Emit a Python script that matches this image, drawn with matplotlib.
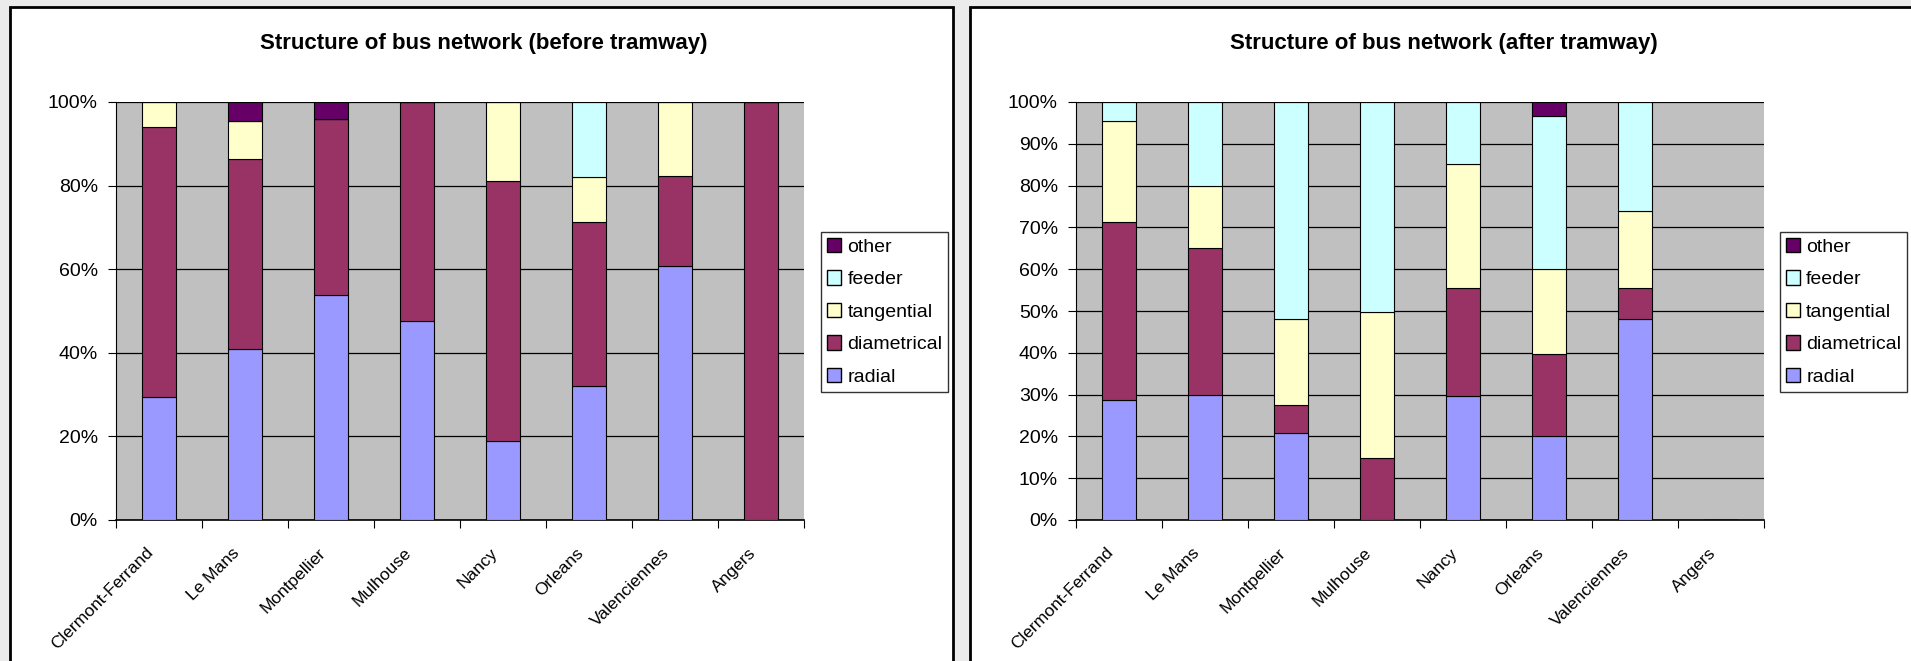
import matplotlib
matplotlib.use("Agg")
import matplotlib.pyplot as plt
import numpy as np
from matplotlib.patches import Patch, Rectangle
from matplotlib.transforms import ScaledTranslation

plt.rcParams["font.family"] = ["Liberation Sans", "DejaVu Sans"]

cities = ["Clermont-Ferrand", "Le Mans", "Montpellier", "Mulhouse",
          "Nancy", "Orleans", "Valenciennes", "Angers"]
series = ["radial", "diametrical", "tangential", "feeder", "other"]
colors = ["#9999FF", "#993366", "#FFFFCC", "#CCFFFF", "#660066"]

# shares in %, before tramway
before_radial = [29.4, 40.9, 53.9, 47.7, 18.8, 32.0, 60.8, 0.0]
before_diametrical = [64.6, 45.5, 42.1, 52.3, 62.4, 39.3, 21.5, 100.0]
before_tangential = [6.0, 9.0, 0.0, 0.0, 18.8, 10.7, 17.7, 0.0]
before_feeder = [0.0, 0.0, 0.0, 0.0, 0.0, 18.0, 0.0, 0.0]
before_other = [0.0, 4.6, 4.0, 0.0, 0.0, 0.0, 0.0, 0.0]

# shares in %, after tramway (no data for Angers)
after_radial = [28.6, 29.9, 20.7, 0.0, 29.6, 20.1, 48.0, 0.0]
after_diametrical = [42.6, 35.1, 6.9, 14.8, 25.9, 19.7, 7.4, 0.0]
after_tangential = [24.2, 14.8, 20.6, 35.0, 29.7, 20.2, 18.5, 0.0]
after_feeder = [4.6, 20.2, 51.8, 50.2, 14.8, 36.7, 26.1, 0.0]
after_other = [0.0, 0.0, 0.0, 0.0, 0.0, 3.3, 0.0, 0.0]

before = [before_radial, before_diametrical, before_tangential, before_feeder, before_other]
after = [after_radial, after_diametrical, after_tangential, after_feeder, after_other]

W, H = 1911, 661
fig = plt.figure(figsize=(W / 100, H / 100), dpi=100)
fig.patch.set_facecolor("#ebebeb")

# white chart panels with black frame
for x0, x1 in [(10, 953), (970, 1925)]:
    fig.patches.append(Rectangle((x0 / W, -0.05), (x1 - x0) / W, 1.05 - 7 / H,
                                 transform=fig.transFigure, facecolor="white",
                                 edgecolor="black", linewidth=2, zorder=-5))


def draw_panel(left, data, title, ystep, legend_x):
    ax = fig.add_axes([left / W, 1 - 520 / H, 688 / W, 418 / H])
    ax.set_facecolor("#C0C0C0")
    x = np.arange(len(cities))
    bottom = np.zeros(len(cities))
    for vals, name, c in zip(data, series, colors):
        vals = np.array(vals)
        ax.bar(x, vals, 0.4, bottom=bottom, color=c, edgecolor="black",
               linewidth=0.8, label=name, zorder=3)
        bottom += vals

    ax.set_xlim(-0.5, len(cities) - 0.5)
    ax.set_ylim(0, 100)
    yt = np.arange(0, 101, ystep)
    ax.set_yticks(yt)
    ax.set_yticklabels([f"{v}%" for v in yt], fontsize=14)
    ax.yaxis.grid(True, color="black", linewidth=0.9, zorder=1)
    ax.set_axisbelow(True)

    # category names, rotated, placed just left of each category centre
    ax.set_xticks(np.arange(-0.5, len(cities), 1))
    ax.set_xticklabels([])
    ax.tick_params(axis="x", length=6, direction="out")
    ax.tick_params(axis="y", length=6, direction="out", pad=7)
    lab_tr = ax.get_xaxis_transform() + ScaledTranslation(-13 / 100, -25 / 100,
                                                          fig.dpi_scale_trans)
    for xi, name in zip(x, cities):
        ax.text(xi, 0, name, transform=lab_tr, rotation=45, ha="right",
                va="top", rotation_mode="anchor", fontsize=12.5, clip_on=False)

    for s in ["top", "right"]:
        ax.spines[s].set_visible(False)
    ax.spines["left"].set_color("black")
    ax.spines["bottom"].set_linewidth(1.2)

    fig.text((left + 368) / W, 1 - 44 / H, title, ha="center", va="center",
             fontsize=16, fontweight="bold")

    handles = [Patch(facecolor=c, edgecolor="black", label=n)
               for n, c in zip(series, colors)][::-1]
    leg = fig.legend(handles=handles, loc="upper left",
                     bbox_to_anchor=(legend_x / W, 1 - 232 / H), fontsize=14,
                     frameon=True, fancybox=False, edgecolor="black",
                     handlelength=0.75, handleheight=0.75, handletextpad=0.3,
                     labelspacing=0.75, borderpad=0.3, borderaxespad=0)
    leg.get_frame().set_linewidth(1.0)
    return ax


draw_panel(116, before, "Structure of bus network (before tramway)", 20, 821)
draw_panel(1076, after, "Structure of bus network (after tramway)", 10, 1780)

fig.savefig("out.png", dpi=100)
